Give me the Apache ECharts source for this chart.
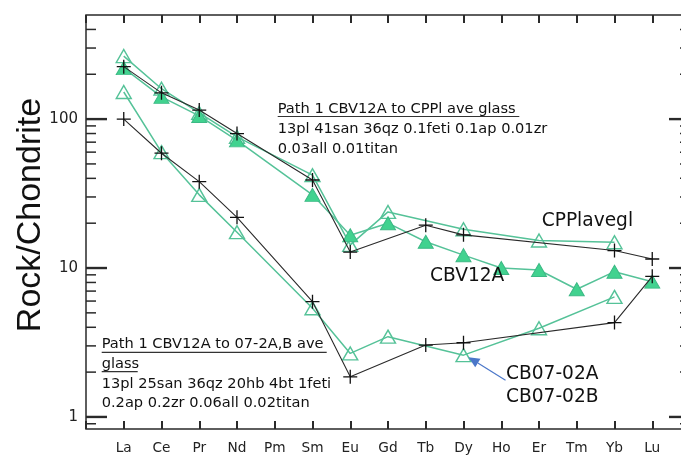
<!DOCTYPE html>
<html><head><meta charset="utf-8">
<script src="https://cdn.jsdelivr.net/npm/echarts@6/dist/echarts.min.js"></script>
<style>html,body{margin:0;padding:0;background:#fff}#c{width:681px;height:456px}</style>
</head><body><div id="c"></div>
<script>
// Categories (REE elements)
const elements = ['La','Ce','Pr','Nd','Pm','Sm','Eu','Gd','Tb','Dy','Ho','Er','Tm','Yb','Lu'];
// Series values (null = not plotted)
const cpplMeasured = [225,150,115,80,null,39,12.8,null,19.4,16.7,null,null,null,13.1,11.5];
const cpplModel    = [265,160,110,76,null,42,14.3,23.8,null,18.2,null,15.3,null,14.9,null];
const cbv12a       = [220,141,105,72,null,31,16.6,20,15,12.2,10,9.7,7.2,9.45,8.1];
const cb07Measured = [100,59,38,21.9,null,5.94,1.86,null,3.04,3.15,null,null,null,4.3,8.8];
const cb07Model    = [152,60,31,17.4,null,5.37,2.67,3.46,null,2.6,null,3.94,null,6.4,null];
// Tick values
const yMajorTicks = [1,10,100];
const yMinorTicks = [0.9,2,3,4,5,6,7,8,9,20,30,40,50,60,70,80,90,200,300,400];

const GREEN = '#55c298', GREEN_FILL = '#41d28f', DARK = '#2a2a2a';
const FONT = 'DejaVu Sans';
const XMIN = -1, XMAX = 15;

function pairs(arr){ const out=[]; arr.forEach((v,i)=>{ if(v!=null) out.push([i,v]); }); return out; }

const plus = 'path://M0,7H14M7,0V14';

function lineSeries(name, arr, kind){
  const s = {name, type:'line', data: pairs(arr), showAllSymbol:true, animation:false, z: 3};
  if(kind==='plus'){
    Object.assign(s,{symbol:plus, symbolSize:14, lineStyle:{color:DARK,width:1.1},
      itemStyle:{color:'rgba(0,0,0,0)',borderColor:'#111',borderWidth:1.3}, z:4});
  } else if(kind==='hollow'){
    Object.assign(s,{symbol:'triangle', symbolSize:[15,13], lineStyle:{color:GREEN,width:1.5},
      itemStyle:{color:'rgba(255,255,255,0)',borderColor:GREEN,borderWidth:1.4}});
  } else {
    Object.assign(s,{symbol:'triangle', symbolSize:[15,13], lineStyle:{color:GREEN,width:1.5},
      itemStyle:{color:GREEN_FILL,borderColor:'#3cb985',borderWidth:1}});
  }
  return s;
}

const tickSeries = {
  type:'custom', silent:true, animation:false, z:5,
  data: yMajorTicks.map(v=>[XMIN,v,1]).concat(yMinorTicks.map(v=>[XMIN,v,0])),
  encode:{x:0,y:1},
  renderItem:function(params, api){
    const v = api.value(1), major = api.value(2)===1;
    const pl = api.coord([XMIN, v]), pr = api.coord([XMAX, v]);
    const len = major ? 21 : 10, w = major ? 2.4 : 1.5;
    return {type:'group', children:[
      {type:'line', shape:{x1:pl[0],y1:pl[1],x2:pl[0]+len,y2:pl[1]}, style:{stroke:DARK,lineWidth:w}},
      {type:'line', shape:{x1:pr[0],y1:pr[1],x2:pr[0]-len,y2:pr[1]}, style:{stroke:DARK,lineWidth:w}}
    ]};
  }
};

const chart = echarts.init(document.getElementById('c'));
const xCommon = {type:'value', min:XMIN, max:XMAX, interval:1, splitLine:{show:false},
  axisLine:{show:false}, axisTick:{show:true, inside:true, length:8, lineStyle:{color:DARK,width:2}}};
chart.setOption({
  animation:false,
  backgroundColor:'#fff',
  grid:{left:86, top:15, width:604, height:414, outerBoundsMode:'none', containLabel:false,
    show:true, borderColor:DARK, borderWidth:1.5, backgroundColor:'transparent'},
  xAxis:[
    Object.assign({}, xCommon, {position:'bottom',
      axisLabel:{show:true, margin:12, fontFamily:FONT, fontSize:13.7, color:'#222',
        formatter:v=> (Number.isInteger(v)&&v>=0&&v<elements.length)? elements[v] : ''}}),
    Object.assign({}, xCommon, {position:'top', axisLabel:{show:false}})
  ],
  yAxis:{type:'log', logBase:10, min:0.83, max:500, splitLine:{show:false}, axisLine:{show:false},
    axisTick:{show:false}, minorTick:{show:false},
    axisLabel:{margin:8, fontFamily:FONT, fontSize:15, color:'#222',
      formatter:v=>{ const r=Math.round(v*1000)/1000; return yMajorTicks.indexOf(r)>=0 ? String(r) : ''; }}},
  series:[
    lineSeries('CPPl ave glass model', cpplModel, 'hollow'),
    lineSeries('CBV12A', cbv12a, 'filled'),
    lineSeries('CB07-02 model', cb07Model, 'hollow'),
    lineSeries('CPPlavegl', cpplMeasured, 'plus'),
    lineSeries('CB07-02A/B', cb07Measured, 'plus'),
    tickSeries
  ]
});

// Annotations
const tip = chart.convertToPixel({xAxisIndex:0,yAxisIndex:0},[9, cb07Model[9]]);
const tx = tip[0]+5, ty = tip[1]+2;
const sx = tx+37, sy = ty+23;
const ang = Math.atan2(ty-sy, tx-sx);
const ah = 11, aw = 5;
const bx = tx - ah*Math.cos(ang), by = ty - ah*Math.sin(ang);
const px = -Math.sin(ang)*aw, py = Math.cos(ang)*aw;

function txt(t, x, y, size, extra){
  return Object.assign({type:'text', x, y, z:10,
    style:{text:t, fill:'#111', fontFamily:FONT, fontSize:size, align:'left', verticalAlign:'middle'}}, extra||{});
}
function uline(x1,x2,y){ return {type:'line', z:10, shape:{x1,y1:y,x2,y2:y}, style:{stroke:'#333',lineWidth:1.2}}; }

chart.setOption({graphic:[
  {type:'text', x:31, y:215, rotation:Math.PI/2, z:10,
    style:{text:'Rock/Chondrite', fill:'#111', fontFamily:'Liberation Sans', fontSize:34, align:'center', verticalAlign:'middle'}},
  txt('Path 1 CBV12A to CPPl ave glass', 277.7, 109, 14.6),
  uline(277.7, 519.3, 116.5),
  txt('13pl 41san 36qz 0.1feti 0.1ap 0.01zr', 277.7, 129.7, 14.6),
  txt('0.03all 0.01titan', 277.7, 149.7, 14.6),
  txt('Path 1 CBV12A to 07-2A,B ave', 101.7, 344.7, 14.6),
  uline(101.7, 326.7, 352.3),
  txt('glass', 101.7, 364.2, 14.6),
  uline(101.7, 137.7, 371.7),
  txt('13pl 25san 36qz 20hb 4bt 1feti', 101.7, 384, 14.6),
  txt('0.2ap 0.2zr 0.06all 0.02titan', 101.7, 403, 14.6),
  txt('CPPlavegl', 541.7, 221, 18.6),
  txt('CBV12A', 430, 276, 18.6),
  txt('CB07-02A', 506, 374, 18.6),
  txt('CB07-02B', 506, 397.5, 18.6),
  {type:'line', z:10, shape:{x1:sx,y1:sy,x2:bx,y2:by}, style:{stroke:'#4b77c9',lineWidth:1.2}},
  {type:'polygon', z:10, shape:{points:[[tx,ty],[bx+px,by+py],[bx-px,by-py]]}, style:{fill:'#4b77c9'}}
]});
</script></body></html>
